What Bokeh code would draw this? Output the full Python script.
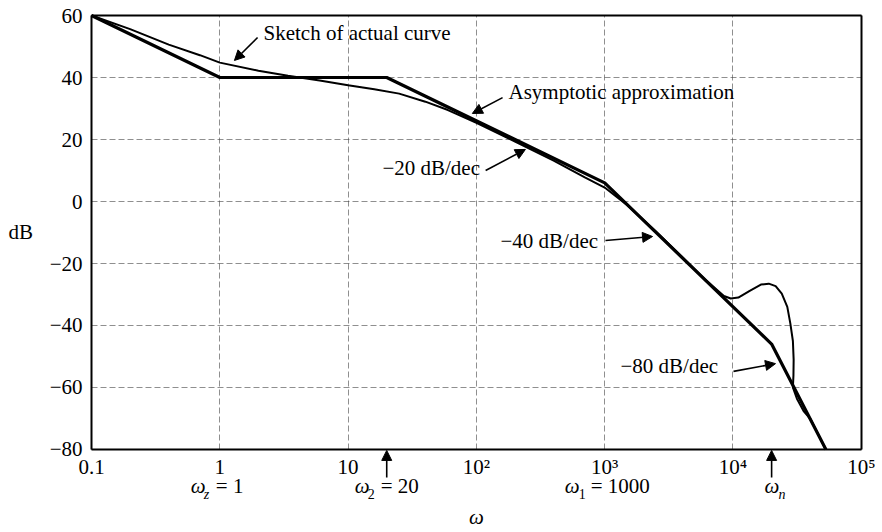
from bokeh.plotting import figure
from bokeh.models import (Range1d, FixedTicker, Label, Arrow, NormalHead,
                          LogAxis, LinearAxis)
from bokeh.embed import file_html
from bokeh.resources import INLINE

# ---- data ----
x_ticks = [0.1, 1, 10, 100, 1000, 10000, 100000]
x_tick_labels = ["0.1", "1", "10", "10²", "10³", "10⁴", "10⁵"]
y_ticks = [-80, -60, -40, -20, 0, 20, 40, 60]
y_tick_labels = ["−80", "−60", "−40", "−20", "0", "20", "40", "60"]

# asymptotic (straight-line) approximation
asym_w = [0.1, 1, 20, 1000, 20000, 53000]
asym_db = [60, 40, 40, 6, -46, -80]

# sketch of actual curve
actual_w = [0.1, 0.2, 0.4, 0.7, 1, 2, 3.4, 6, 10, 16, 25, 40, 60, 100, 200, 400,
            700, 1000, 1500, 2500, 4000, 6000, 8500, 9600, 11000, 13500, 16500,
            19000, 21500, 24000, 26500, 28000, 29300, 29700, 29600, 29300, 31500,
            35500, 40000, 53000]
actual_db = [60, 55.6, 50.6, 47.2, 44.8, 42.2, 40.6, 39, 37.5, 36.2, 34.8, 32.2,
             29.5, 25.4, 19.3, 13.2, 7.8, 4.5, -1.2, -9.6, -17.8, -25, -30.5, -31.3,
             -31, -28.8, -26.8, -26.5, -27.3, -29.7, -34, -39.4, -45, -51, -56,
             -60, -63.6, -67.6, -70.1, -80]

# break frequencies marked under the axis
w_z, w_2, w_1, w_n = 1, 20, 1000, 20000

FONT = "Liberation Serif"
FS = "21px"
SUB = "14px"

x_lo, x_hi = x_ticks[0], x_ticks[-1]
y_lo, y_hi = y_ticks[0], y_ticks[-1]

# the frame fills the whole canvas; the chart box is drawn by axes
# fixed at the ends of the data ranges, so that the labels under the
# axis can be placed freely
p = figure(width=880, height=530, x_axis_type="log",
           x_range=Range1d(0.019527, 141160), y_range=Range1d(-106.13, 64.84),
           output_backend="svg", toolbar_location=None, min_border=0,
           background_fill_color="white", border_fill_color="white")
p.outline_line_color = None


def style_axis(ax):
    ax.axis_line_color = "black"
    ax.axis_line_width = 2
    ax.major_tick_line_color = None
    ax.minor_tick_line_color = None
    ax.major_tick_out = 0
    ax.major_tick_in = 0
    ax.minor_tick_out = 0
    ax.minor_tick_in = 0
    ax.major_label_text_font = FONT
    ax.major_label_text_font_size = FS
    ax.major_label_text_color = "black"


xa = p.xaxis[0]
ya = p.yaxis[0]
xa.ticker = FixedTicker(ticks=x_ticks)
ya.ticker = FixedTicker(ticks=y_ticks)
xa.major_label_overrides = dict(zip(x_ticks, x_tick_labels))
ya.major_label_overrides = dict(zip(y_ticks, y_tick_labels))
style_axis(xa)
style_axis(ya)
xa.fixed_location = y_lo
ya.fixed_location = x_lo
xa.bounds = (x_lo, x_hi)
ya.bounds = (y_lo, y_hi)
xa.major_label_standoff = 6
ya.major_label_standoff = 9

top = LogAxis(fixed_location=y_hi, bounds=(x_lo, x_hi), ticker=FixedTicker(ticks=[]))
right = LinearAxis(fixed_location=x_hi, bounds=(y_lo, y_hi), ticker=FixedTicker(ticks=[]))
style_axis(top)
style_axis(right)
p.add_layout(top, "above")
p.add_layout(right, "right")

# grid
p.xgrid.ticker = FixedTicker(ticks=x_ticks)
p.ygrid.ticker = FixedTicker(ticks=y_ticks)
p.xgrid.bounds = (x_lo, x_hi)
p.ygrid.bounds = (y_lo, y_hi)
p.xgrid.cross_bounds = (y_lo, y_hi)
p.ygrid.cross_bounds = (x_lo, x_hi)
for g in (p.xgrid, p.ygrid):
    g.grid_line_color = "#444444"
    g.grid_line_alpha = 0.6
    g.grid_line_width = 1
    g.grid_line_dash = "6 3"

# curves
p.line(asym_w, asym_db, line_color="black", line_width=3.2)
p.line(actual_w, actual_db, line_color="black", line_width=2)


def txt(x, y, s, size=FS, style="normal", align="left", xo=0, yo=8):
    p.add_layout(Label(x=x, y=y, text=s, text_font=FONT, text_font_size=size,
                       text_font_style=style, text_align=align,
                       text_baseline="alphabetic", text_color="black",
                       x_offset=xo, y_offset=yo))


def arrow(x0, y0, x1, y1):
    p.add_layout(Arrow(end=NormalHead(size=10, fill_color="black",
                                      line_color="black", line_width=1),
                       x_start=x0, y_start=y0, x_end=x1, y_end=y1,
                       line_color="black", line_width=1.6))


# annotations inside the plot
txt(2.19, 51.9, "Sketch of actual curve")
arrow(1.97, 52.9, 1.30, 45.5)
txt(178, 32.6, "Asymptotic approximation")
arrow(160, 33.5, 93, 28.4)
txt(18.5, 8.3, "−20 dB/dec")
arrow(118, 10, 241, 16.8)
txt(154, -15.2, "−40 dB/dec")
arrow(1014, -12.6, 2360, -11.3)
txt(1327, -55.5, "−80 dB/dec")
arrow(10090, -54.8, 21450, -52.3)

# y-axis title
txt(0.02254, -12.3, "dB")

# break-frequency labels below the axis
BL = -94.5
txt(w_z, BL, "ω", style="italic", xo=-29)
txt(w_z, BL, "z", size=SUB, style="italic", xo=-16, yo=0)
txt(w_z, BL, "= 1", xo=-4)

txt(w_2, BL, "ω", style="italic", xo=-32)
txt(w_2, BL, "2", size=SUB, xo=-19, yo=0)
txt(w_2, BL, "= 20", xo=-6)
arrow(w_2, -89, w_2, -80.3)

txt(w_1, BL, "ω", style="italic", xo=-40)
txt(w_1, BL, "1", size=SUB, xo=-26, yo=0)
txt(w_1, BL, "=  1000", xo=-14)

txt(w_n, BL, "ω", style="italic", xo=-7)
txt(w_n, BL, "n", size=SUB, style="italic", xo=7, yo=0)
arrow(w_n, -89, w_n, -80.3)

# x-axis title
txt(100, -104.2, "ω", style="italic", align="center")

open("out.html", "w").write(file_html(p, INLINE))
